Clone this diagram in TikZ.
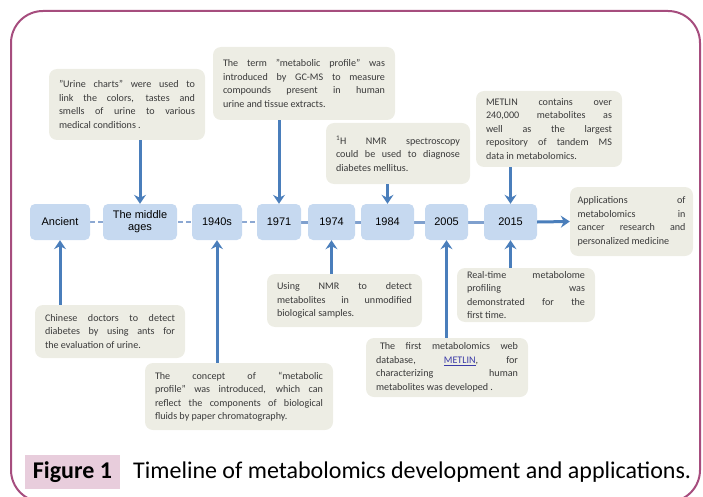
\documentclass[tikz,border=0pt]{standalone}
\usepackage{fontspec}
\setmainfont{Carlito}
\newfontfamily\tlfont{Liberation Sans}
\usetikzlibrary{arrows.meta,backgrounds}
\definecolor{mframe}{HTML}{A64D7E}
\definecolor{mpink}{HTML}{E8CDDC}
\definecolor{mbox}{HTML}{C6D9F0}
\definecolor{mnote}{HTML}{EDEDE4}
\definecolor{marrow}{HTML}{4A7EBB}
\definecolor{mline}{HTML}{8CA8D2}
\definecolor{mtext}{HTML}{3A3A3A}
\definecolor{mlink}{HTML}{3B3BA8}

\begin{document}
\begin{tikzpicture}[x=1pt,y=-1pt,
    year/.style={rectangle, rounded corners=5pt, fill=mbox, minimum height=36pt, inner sep=0pt, font=\tlfont\fontsize{11}{12}\selectfont, align=center},
    note/.style={rectangle, rounded corners=8pt, fill=mnote, text=mtext, inner xsep=10pt, inner ysep=0pt, font=\fontsize{10.1}{13.5}\selectfont, align=justify},
    arr/.style={-{Stealth[length=9pt,width=12pt,inset=3pt]}, line width=3pt, draw=marrow},
]
    \useasboundingbox (0,0) rectangle (703,497);
    \clip (0,0) rectangle (703,497);
    \draw[mframe, line width=2pt, rounded corners=32pt] (11,11) rectangle (700,502);

    % timeline
    \node[year, minimum width=60pt] (ancient) at (60,222) {Ancient};
    \node[year, minimum width=74pt] (midage) at (140,222) {The middle\\ages};
    \node[year, minimum width=50pt] (y1940) at (217,222) {1940s};
    \node[year, minimum width=44pt] (y1971) at (279,222) {1971};
    \node[year, minimum width=47pt] (y1974) at (331.5,222) {1974};
    \node[year, minimum width=53pt] (y1984) at (387.5,222) {1984};
    \node[year, minimum width=43pt] (y2005) at (446.5,222) {2005};
    \node[year, minimum width=53pt] (y2015) at (510.5,222) {2015};

    % notes above
    \node[note, text width=136pt, minimum height=71pt] (urine) at (127,104.5) {"Urine charts" were used to\linebreak link the colors, tastes and\linebreak smells of urine to various\linebreak medical conditions~.};
    \node[note, text width=162pt, minimum height=73pt] (term) at (304,83.5) {The term "metabolic profile" was\linebreak introduced by GC-MS to measure\linebreak compounds present in human\linebreak urine and tissue extracts.};
    \node[note, text width=124pt, minimum height=61pt] (hnmr) at (398,153.5) {\textsuperscript{1}H NMR spectroscopy\linebreak could be used to diagnose\linebreak diabetes mellitus.};
    \node[note, text width=126pt, minimum height=76pt] (metlin) at (549,129) {METLIN contains over\linebreak 240,000 metabolites as\linebreak well as the largest\linebreak repository of tandem MS\linebreak data in metabolomics.};
    \node[note, text width=108pt, inner xsep=7.5pt, minimum height=69pt] (appl) at (631.5,221.5) {Applications of\linebreak metabolomics in\linebreak cancer research and\linebreak personalized medicine};

    % notes below
    \node[note, text width=130pt, minimum height=53pt] (chinese) at (110,331.5) {Chinese doctors to detect\linebreak diabetes by using ants for\linebreak the evaluation of urine.};
    \node[note, text width=168pt, minimum height=67pt] (concept) at (239,396.5) {The concept of “metabolic\linebreak profile” was introduced, which can\linebreak reflect the components of biological\linebreak fluids by paper chromatography.};
    \node[note, text width=135pt, minimum height=53pt] (usenmr) at (344.5,300.5) {Using NMR to detect\linebreak metabolites in unmodified\linebreak biological samples.};
    \node[note, text width=118pt, minimum height=54pt] (realtime) at (526,295) {Real-time metabolome\linebreak profiling was\linebreak demonstrated for the\linebreak first time.};
    \node[note, text width=142pt, minimum height=59pt] (first) at (447,367.5) {\hspace*{4pt}The first metabolomics web\linebreak database, \textcolor{mlink}{\underline{METLIN}}, for\linebreak characterizing human\linebreak metabolites was developed~.};

    % timeline line
    \begin{scope}[on background layer]
        \draw[mline, line width=2.5pt, dash pattern=on 5pt off 3pt] (ancient.east) -- (y1971.west);
        \draw[mline!80!marrow, line width=3pt] (y1971.west) -- (y2015.west);
    \end{scope}
    \draw[arr] (y2015.east) -- (appl.west);

    % arrows
    \draw[arr] (urine.south -| midage.north) -- (midage.north);
    \draw[arr] (term.south -| y1971.north) -- (y1971.north);
    \draw[arr] (hnmr.south -| y1984.north) -- (y1984.north);
    \draw[arr] (metlin.south -| y2015.north) -- (y2015.north);
    \draw[arr] (chinese.north -| ancient.south) -- (ancient.south);
    \draw[arr] (concept.north -| y1940.south) -- (y1940.south);
    \draw[arr] (usenmr.north -| y1974.south) -- (y1974.south);
    \draw[arr] (first.north -| y2005.south) -- (y2005.south);
    \draw[arr] (realtime.north -| y2015.south) -- (y2015.south);

    % caption
    \node[fill=mpink, minimum width=95pt, minimum height=34pt, inner sep=0pt, font=\bfseries\fontsize{24}{26}\selectfont] (fig) at (72.5,472) {Figure 1};
    \node[anchor=west, inner sep=0pt, font=\fontsize{24}{26}\selectfont] (cap) at (133,472) {Timeline of metabolomics development and applications.};
\end{tikzpicture}
\end{document}
